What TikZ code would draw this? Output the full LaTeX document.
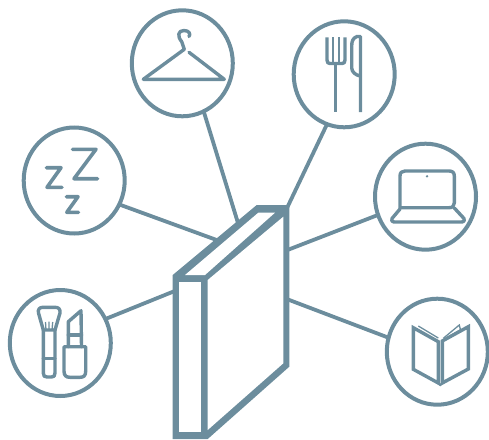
\documentclass[tikz,border=0pt]{standalone}
\usetikzlibrary{shapes.geometric}
\definecolor{steel}{HTML}{6C8D9D}
\tikzset{
  hub/.style={ellipse,draw=steel,line width=4pt,inner sep=0pt,outer sep=0pt,minimum width=101pt,minimum height=106pt},
  link/.style={draw=steel,line width=3.8pt},
  icon/.style={draw=steel,line width=3.4pt,line join=round,line cap=round},
  iconz/.style={draw=steel,line width=3.6pt,line join=round,line cap=round},
  thin icon/.style={draw=steel,line width=1.3pt}
}
\begin{document}
\begin{tikzpicture}[x=1pt,y=-1pt]
\useasboundingbox (0,0) rectangle (489,439);
% hubs
\node[hub] (hanger) at (182.3,63.3) {};
\node[hub] (fork) at (344.2,74.3) {};
\node[hub] (sleep) at (74.2,180.5) {};
\node[hub] (beauty) at (60.3,343) {};
\node[hub] (laptop) at (425.5,196.7) {};
\node[hub] (book) at (437.3,351.7) {};
% free ends on the block
\coordinate (eh) at (238.3,224);
\coordinate (ef) at (287,208);
\coordinate (es) at (218,240.5);
\coordinate (eb) at (176,290.5);
\coordinate (el) at (288,249.8);
\coordinate (ek) at (288,299.5);
\draw[link] (hanger.-66) -- (eh);
\draw[link] (fork.-109) -- (ef);
\draw[link] (sleep.-28) -- (es);
\draw[link] (beauty.28) -- (eb);
\draw[link] (laptop.201) -- (el);
\draw[link] (book.164) -- (ek);
% block
\fill[steel] (172.7,275) -- (256.7,205) -- (289.3,205) -- (289.3,366.7) -- (207.7,439) -- (172.7,439) -- cycle;
\fill[white] (179.3,282) -- (200.7,282) -- (200.7,432) -- (179.3,432) -- cycle;
\fill[white] (185,275) -- (258.3,212.7) -- (275,212.7) -- (205,275) -- cycle;
\fill[white] (207.7,280) -- (283.3,216.7) -- (283.3,363.3) -- (207.7,430) -- cycle;
% hanger
\draw[icon] (143.3,79.3) -- (224.3,79.3) -- (189,52.3);
\draw[icon] (143.3,79.3) -- (184.3,49.3) -- (181.7,41.7) .. controls (177,36) and (178,30.5) .. (184,30.5) .. controls (189,30.5) and (191,34) .. (189,36.5);
% fork and knife
\draw[icon,line cap=butt] (327,37.3) -- (327,60) .. controls (327,62.5) and (328,63.5) .. (330,63.5) -- (342,63.5) .. controls (344,63.5) and (345,62.5) .. (345,60) -- (345,37.3);
\draw[icon,line cap=butt,line width=2.8pt] (333,37.3) -- (333,63.5) (339,37.3) -- (339,63.5);
\draw[icon,line cap=butt] (335.7,63.5) -- (335.7,112);
\draw[icon,line cap=butt] (360.5,112) -- (360.5,36.5) -- (357,36.5) .. controls (353,38) and (351.7,41) .. (351.7,46) -- (351.7,68) .. controls (351.7,72) and (356,75.5) .. (360.5,76);
% zzz
\draw[iconz] (72.5,149.3) -- (96,149.3) -- (74,178.7) -- (97.5,178.7);
\draw[iconz] (46.5,167.7) -- (61,167.7) -- (47,187.3) -- (62,187.3);
\draw[iconz] (66.5,196.7) -- (78,196.7) -- (66.8,212.3) -- (78.5,212.3);
% brush
\draw[icon] (43.3,330) -- (38.5,313) .. controls (37.5,309) and (40,307.3) .. (43,307.3) -- (55,307.3) .. controls (58.5,307.3) and (60.5,309) .. (60,313) -- (55,330) -- cycle;
\draw[icon] (43.3,330) -- (43.3,373) .. controls (43.3,376) and (44.5,377) .. (47,377) -- (51.5,377) .. controls (54,377) and (55,376) .. (55,373) -- (55,330);
\draw[icon] (43.3,358.3) -- (55,358.3);
\draw[thin icon] (45.5,322) -- (46,330) (49,321.5) -- (49,330) (52.7,322) -- (52,330);
% lipstick
\draw[icon] (64,346.7) -- (85.7,346.7) -- (85.7,371) .. controls (85.7,375.5) and (84,377.3) .. (80,377.3) -- (70,377.3) .. controls (66,377.3) and (64,375.5) .. (64,371) -- cycle;
\draw[icon] (68.3,346.7) -- (68.3,321.7) -- (81,310.7) -- (81.5,346.7);
\draw[icon] (68.3,335) -- (81.5,335);
% laptop
\draw[icon] (400,207.7) -- (400,176) .. controls (400,172.5) and (402,171) .. (405,171) -- (449,171) .. controls (452.5,171) and (454.3,172.5) .. (454.3,176) -- (454.3,203) .. controls (454.3,206) and (452.5,207.7) .. (449,207.7) -- cycle;
\draw[icon] (400,209) -- (392,218.5) .. controls (391,220.5) and (392,222) .. (394,222) -- (462,222) .. controls (464,222) and (465,220.5) .. (464,218.5) -- (454.3,208);
\node[circle,fill=steel,inner sep=0pt,minimum size=2.6pt] (cam) at (427,176.3) {};
% open book
\draw[icon,line cap=butt,line join=miter] (413.3,327.7) -- (438.3,341.7) -- (438.3,383) -- (413.3,369.3) -- cycle;
\draw[icon,line cap=butt,line join=miter] (468.3,326.7) -- (442.3,341) -- (442.3,383) -- (468.3,369) -- cycle;
\draw[thin icon] (418.3,326) -- (438.3,338) (443.3,338.3) -- (459.3,325) -- (460.5,330);
\draw[thin icon] (446,338) -- (461,329.5);
\draw[draw=steel,line width=2pt] (438.3,383) -- (440.3,385) -- (442.3,383);
\end{tikzpicture}
\end{document}
